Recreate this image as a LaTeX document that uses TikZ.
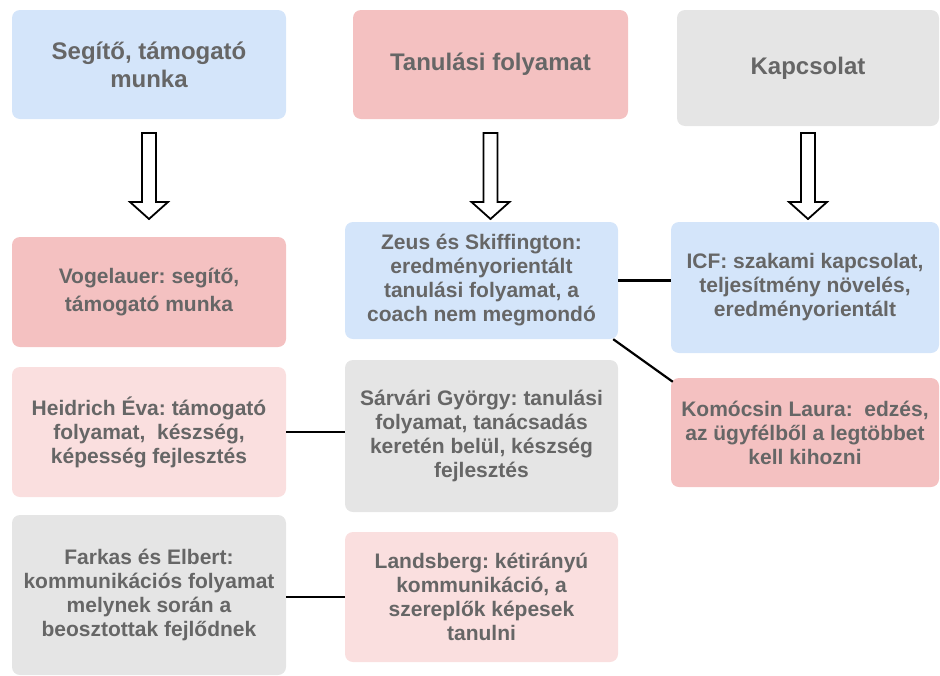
\documentclass[tikz,border=0pt]{standalone}
\usepackage{fontspec}
\setmainfont{Liberation Sans}
\usepackage{xcolor}
\usetikzlibrary{calc}
\frenchspacing
\definecolor{boxblue}{HTML}{D4E5FA}
\definecolor{boxred}{HTML}{F4C1C1}
\definecolor{boxgray}{HTML}{E5E5E5}
\definecolor{boxpink}{HTML}{FADFDF}
\definecolor{textgray}{HTML}{666666}
\tikzset{%
    card/.style={%
        rounded corners=8pt, align=center, inner sep=0pt,
        text=textgray, font=\bfseries\fontsize{21}{24}\selectfont
    },
    headcard/.style={card, font=\bfseries\fontsize{24}{28}\selectfont},
    blockarrow/.style={draw=black, fill=white, line width=1.8pt, line join=miter},
    link/.style={draw=black, line width=2.2pt}
}

\begin{document}
\begin{tikzpicture}[x=1pt,y=-1pt]
    \useasboundingbox (0,0) rectangle (940,675);
    % top row
    \node[headcard, fill=boxblue, minimum width=274pt, minimum height=109pt] (seg) at (149,64.5) {Segítő, támogató\\munka};
    \node[headcard, fill=boxred, minimum width=275pt, minimum height=109pt] (tan) at (490.5,64.5) {Tanulási folyamat};
    \node[headcard, fill=boxgray, minimum width=262pt, minimum height=116pt] (kap) at (808,68) {Kapcsolat};
    % second row
    \node[card, fill=boxred, minimum width=274pt, minimum height=110pt, font=\bfseries\fontsize{21}{28}\selectfont] (vog) at (149,292) {Vogelauer: segítő,\\támogató munka};
    \node[card, fill=boxblue, minimum width=273pt, minimum height=117pt] (zeus) at (481.5,280.5) {Zeus és Skiffington:\\eredményorientált\\tanulási folyamat, a\\coach nem megmondó};
    \node[card, fill=boxblue, minimum width=268pt, minimum height=131pt] (icf) at (805,287.5) {ICF: szakami kapcsolat,\\teljesítmény növelés,\\eredményorientált};
    % third row
    \node[card, fill=boxpink, minimum width=274pt, minimum height=130pt] (heid) at (149,432) {Heidrich Éva: támogató\\folyamat,\ \ készség,\\képesség fejlesztés};
    \node[card, fill=boxgray, minimum width=273pt, minimum height=152pt] (sarv) at (481.5,436) {Sárvári György: tanulási\\folyamat, tanácsadás\\keretén belül, készség\\fejlesztés};
    \node[card, fill=boxred, minimum width=268pt, minimum height=109pt] (kom) at (805,432.5) {Komócsin Laura:\ \ edzés,\\az ügyfélből a legtöbbet\\kell kihozni};
    % bottom row
    \node[card, fill=boxgray, minimum width=274pt, minimum height=160pt] (fark) at (149,595) {Farkas és Elbert:\\kommunikációs folyamat\\melynek során a\\beosztottak fejlődnek};
    \node[card, fill=boxpink, minimum width=273pt, minimum height=130pt] (land) at (481.5,597) {Landsberg: kétirányú\\kommunikáció, a\\szereplők képesek\\tanulni};

    % hollow arrows
    \coordinate (arrtop) at (0,133);
    \foreach \src in {seg,tan,kap}
    {
    \draw[blockarrow, shift={(\src.south |- arrtop)}] (-7,0) -- (7,0) -- (7,69) -- (19,69) -- (0,86) -- (-19,69) -- (-7,69) -- cycle;
    }

    % links
    \draw[link] (zeus.east) -- (zeus.east -| icf.west);
    \draw[link] ([xshift=-5pt]zeus.south east) -- ([xshift=2pt,yshift=-4pt]kom.north west);
    \draw[link] (heid.east) -- (heid.east -| sarv.west);
    \draw[link] (land.west) -- (land.west -| fark.east);
\end{tikzpicture}
\end{document}
